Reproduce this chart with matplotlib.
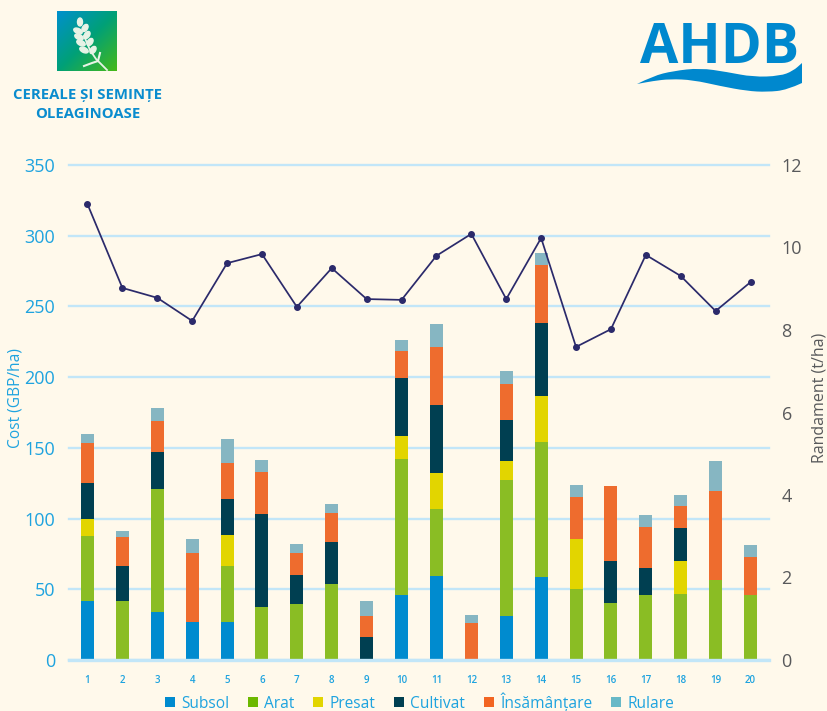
import numpy as np
import matplotlib
matplotlib.use('Agg')
import matplotlib.pyplot as plt
from matplotlib.patches import Ellipse, Patch, PathPatch
from matplotlib.path import Path

farms = list(range(1, 21))
subsol = [42, 0, 34, 27, 27, 0, 0, 0, 0, 46, 59.5, 0, 31, 58.5, 0, 0, 0, 0, 0, 0]
arat = [45.5, 42, 87, 0, 39.5, 37.5, 39.5, 53.5, 0, 96, 47.5, 0, 96.5, 95.5, 50, 40, 46, 47, 56.5, 46]
presat = [12.5, 0, 0, 0, 22, 0, 0, 0, 0, 16.5, 25, 0, 13.5, 33, 35.5, 0, 0, 23, 0, 0]
cultivat = [25, 24.5, 26, 0, 25, 65.5, 20.5, 30, 16, 41, 48, 0, 29, 51, 0, 30, 19, 23.5, 0, 0]
insamantare = [28.5, 20.5, 22, 49, 26, 30, 16, 20.5, 15, 19, 41.5, 26, 25, 41, 29.5, 53, 29, 15.5, 63, 27]
rulare = [6.5, 4, 9, 9.5, 17, 8.5, 6, 6.5, 11, 7.5, 16, 5.5, 9, 9, 9, 0, 8.5, 7.5, 21, 8]
randament = [11.05, 9.02, 8.78, 8.22, 9.62, 9.84, 8.56, 9.5, 8.75, 8.73, 9.8, 10.33, 8.75, 10.23, 7.59, 8.02, 9.82, 9.31, 8.46, 9.16]

series_names = ['Subsol', 'Arat', 'Presat', 'Cultivat', 'Însămânțare', 'Rulare']
series = [subsol, arat, presat, cultivat, insamantare, rulare]
bar_colors = ['#008bcf', '#8abd24', '#e2d500', '#003f51', '#ee6c2e', '#86b6c2']
legend_colors = ['#008bcf', '#6cb800', '#e2d500', '#003f51', '#f26522', '#68b9c7']

bg = '#fff9eb'
blue = '#1ea3df'
grey = '#58595b'
W, H = 827, 711


def smooth_edge(points):
    # quadratic curves through the midpoints, ends stay sharp
    verts, codes = [points[0]], [Path.LINETO]
    for i in range(1, len(points) - 1):
        mid = ((points[i][0] + points[i + 1][0]) / 2, (points[i][1] + points[i + 1][1]) / 2)
        verts += [points[i], mid]
        codes += [Path.CURVE3, Path.CURVE3]
    verts.append(points[-1])
    codes.append(Path.LINETO)
    return verts, codes


plt.rcParams['font.family'] = ['Open Sans', 'Noto Sans', 'DejaVu Sans']
fig = plt.figure(figsize=(W / 100, H / 100), dpi=100, facecolor=bg)

ax = fig.add_axes([69 / W, 1 - 660 / H, 700 / W, 495 / H], facecolor='none')
ax.set_xlim(0.47, 20.53)
ax.set_ylim(0, 350)
ax.set_yticks(range(0, 351, 50))
ax.set_xticks(farms)
ax.grid(axis='y', color='#c2e6f8', lw=1.7, zorder=0)
for line in ax.get_ygridlines():
    line.set_clip_on(False)
ax.set_axisbelow(True)
for s in ax.spines.values():
    s.set_visible(False)
ax.tick_params(axis='y', length=0, pad=10, labelsize=13, labelcolor=blue)
ax.tick_params(axis='x', length=0, pad=11, labelsize=7, labelcolor=blue)
for t in ax.get_xticklabels():
    t.set_fontweight('semibold')

bottom = np.zeros(len(farms))
for vals, color in zip(series, bar_colors):
    ax.bar(farms, vals, width=0.372, bottom=bottom, color=color, lw=0, zorder=2)
    bottom += np.array(vals)
ax.axhline(0, color='#c2e6f8', lw=2.4, zorder=3, clip_on=False)

ax2 = ax.twinx()
ax2.set_ylim(0, 12)
ax2.set_yticks(range(0, 13, 2))
ax2.patch.set_visible(False)
for s in ax2.spines.values():
    s.set_visible(False)
ax2.tick_params(axis='y', length=0, pad=9, labelsize=13, labelcolor=grey)
ax2.plot(farms, randament, color='#2b2a6b', lw=1.25, marker='o', ms=4, zorder=5)

fig.text(15 / W, 1 - 398 / H, 'Cost (GBP/ha)', rotation=90, color=blue, fontsize=11.2, ha='center', va='center')
fig.text(819.5 / W, 1 - 398 / H, 'Randament (t/ha)', rotation=90, color=grey, fontsize=11.5, ha='center', va='center')

handles = [Patch(facecolor=c, label=n) for c, n in zip(legend_colors, series_names)]
fig.legend(handles=handles, loc='center', bbox_to_anchor=(419.5 / W, 1 - 702 / H), ncol=6, frameon=False,
           fontsize=11.2, labelcolor=blue, handlelength=0.64, handleheight=0.64, handletextpad=0.4,
           columnspacing=1.2, borderpad=0, borderaxespad=0)

# logos and heading, in pixel coordinates
top = fig.add_axes([0, 0, 1, 1], facecolor='none')
top.set_xlim(0, W)
top.set_ylim(H, 0)
top.axis('off')

u, v = np.meshgrid(np.linspace(0, 1, 60), np.linspace(0, 1, 60))
t = (u + v) / 2
c0, c1, c2 = np.array([0, 144, 205]), np.array([0, 160, 120]), np.array([70, 185, 25])
grad = np.where((t < 0.5)[..., None], c0 + (c1 - c0) * (t / 0.5)[..., None], c1 + (c2 - c1) * ((t - 0.5) / 0.5)[..., None])
top.imshow(grad / 255, extent=(57, 117, 71, 11), aspect='auto', zorder=1)
top.set_xlim(0, W)
top.set_ylim(H, 0)

white = '#e8f3e6'
top.add_patch(Ellipse((80, 22), 5, 8, color=white, zorder=2))
for x, y in [(78, 31), (79, 37), (81, 43), (84, 50)]:
    top.add_patch(Ellipse((x, y), 9, 5, angle=25, color=white, zorder=2))
for x, y in [(85, 28), (87, 35), (90, 42), (93, 50)]:
    top.add_patch(Ellipse((x, y), 8, 5, angle=-55, color=white, zorder=2))
top.plot([84, 90, 96, 107], [36, 50, 59, 70], color=white, lw=1.3, zorder=2)
top.plot([84, 92, 98, 100], [66, 63, 61, 53], color=white, lw=1.5, zorder=2)

top.text(87.5, 94.5, 'CEREALE ȘI SEMINȚE', color='#0a8cce', fontsize=10.7, fontweight='bold', ha='center', va='center', zorder=4)
top.text(87.5, 113.5, 'OLEAGINOASE', color='#0a8cce', fontsize=10.7, fontweight='bold', ha='center', va='center', zorder=4)

top.text(720, 63, 'AHDB', color='#0088ce', fontsize=40, fontweight='bold', ha='center', va='baseline', zorder=4)
wave_top = [(637, 84), (653, 76), (673, 71), (700, 68), (727, 72), (753, 77), (780, 76), (793, 71), (802, 63)]
wave_bottom = [(802, 83), (787, 90), (767, 92), (747, 91), (720, 86), (693, 80), (670, 79), (653, 81), (637, 84)]
v1, c1_codes = smooth_edge(wave_top)
v2, c2_codes = smooth_edge(wave_bottom)
wave = Path(v1 + v2, [Path.MOVETO] + c1_codes[1:] + c2_codes)
top.add_patch(PathPatch(wave, facecolor='#0088ce', lw=0, zorder=4))

fig.savefig('out.png', dpi=100, facecolor=bg)
